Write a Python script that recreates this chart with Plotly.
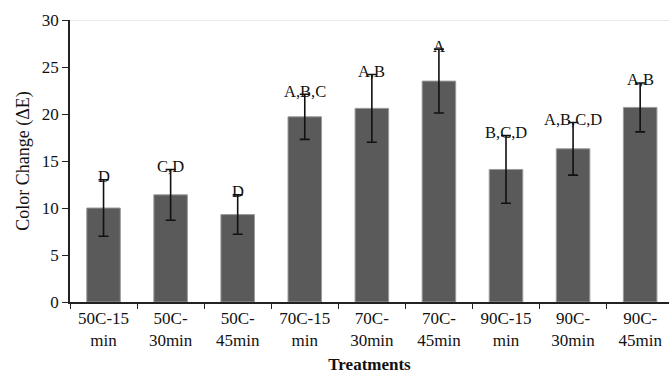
import plotly.graph_objects as go

categories = ["50C-15<br>min", "50C-<br>30min", "50C-<br>45min", "70C-15<br>min", "70C-<br>30min",
              "70C-<br>45min", "90C-15<br>min", "90C-<br>30min", "90C-<br>45min"]
means = [10.0, 11.4, 9.3, 19.7, 20.6, 23.5, 14.1, 16.3, 20.7]
errors = [3.0, 2.7, 2.1, 2.4, 3.6, 3.4, 3.6, 2.8, 2.6]
letters = ["D", "C,D", "D", "A,B,C", "A,B", "A", "B,C,D", "A,B,C,D", "A,B"]

FONT = "Liberation Serif, Times New Roman, serif"

fig = go.Figure()
fig.add_trace(go.Bar(
    x=categories, y=means, width=0.5,
    marker=dict(color="#5a5a5a", line=dict(color="#9a9a9a", width=1)),
    error_y=dict(type="data", array=errors, visible=True, color="#111111", thickness=1.6, width=5),
))

for c, m, e, t in zip(categories, means, errors, letters):
    fig.add_annotation(x=c, y=m + e, text=t, showarrow=False, yanchor="middle", yshift=3,
                       font=dict(family=FONT, size=16.5, color="#111111"))

fig.add_shape(type="line", xref="paper", yref="y", x0=0, x1=1, y0=30, y1=30,
              line=dict(color="#e2e2e2", width=1.5))

fig.update_layout(
    width=669, height=374,
    margin=dict(l=70, r=0, t=20, b=72),
    plot_bgcolor="white", paper_bgcolor="white",
    showlegend=False, bargap=0.5,
    font=dict(family=FONT, size=17, color="#111111"),
    xaxis=dict(
        range=[-0.5, 8.43], showline=True, linecolor="#222222", linewidth=1.5,
        ticks="outside", tickson="boundaries", ticklen=5, tickcolor="#222222",
        tickfont=dict(family=FONT, size=17),
        title=dict(text="<b>Treatments</b>", font=dict(family=FONT, size=17), standoff=10),
    ),
    yaxis=dict(
        range=[0, 30], dtick=5, showgrid=False, zeroline=False,
        showline=True, linecolor="#222222", linewidth=1.5,
        ticks="outside", ticklen=6, tickcolor="#222222",
        tickfont=dict(family=FONT, size=17),
        title=dict(text="Color Change (ΔE)", font=dict(family=FONT, size=18), standoff=8),
    ),
)

fig.write_html("out.html")
